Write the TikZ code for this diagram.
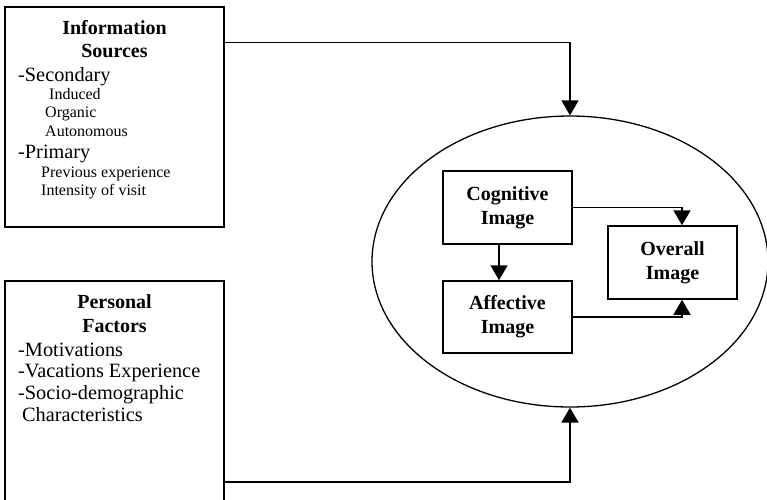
\documentclass[tikz,border=0pt]{standalone}
\usepackage{fontspec}
\setmainfont{Liberation Serif}
\usetikzlibrary{shapes.geometric}
\usetikzlibrary{positioning, arrows.meta}

\begin{document}
\begin{tikzpicture}[x=1pt, y=-1pt,
  box/.style = {draw, line width=1.5pt, inner sep=0pt},
  head/.style = {font=\fontsize{20}{24}\selectfont\bfseries, align=center},
  bold/.style = {font=\fontsize{20}{24}\selectfont\bfseries, inner sep=0pt, anchor=base},
  txt/.style = {font=\fontsize{20.3}{23}\selectfont, inner sep=0pt, anchor=base west},
  sub/.style = {font=\fontsize{16}{19}\selectfont, inner sep=0pt, anchor=base west},
  arr/.style = {line width=1.6pt, -{Triangle[width=17pt, length=15pt]}}]
\useasboundingbox[fill=white] (0,0) rectangle (767,499);
% left boxes
\node[box, minimum width=219pt, minimum height=220pt] (info) at (114.5,117) {};
\node[box, minimum width=219pt, minimum height=239pt] (pers) at (114.5,400.5) {};
% information sources
\node[bold] (infoA) at (114.5,34) {Information};
\node[bold] (infoB) at (114.5,57) {Sources};
\node[txt] (sec) at (18,81) {-Secondary};
\node[sub] (ind) at (49,99) {Induced};
\node[sub] (org) at (45,117) {Organic};
\node[sub] (aut) at (45,136) {Autonomous};
\node[txt] (pri) at (18,158) {-Primary};
\node[sub] (prev) at (41,177) {Previous experience};
\node[sub] (intv) at (41,195) {Intensity of visit};
% personal factors
\node[bold] (persA) at (114.5,308) {Personal};
\node[bold] (persB) at (114.5,332) {Factors};
\node[txt] (mot) at (18,356) {-Motivations};
\node[txt] (vac) at (18,377) {-Vacations Experience};
\node[txt] (soc) at (18,399) {-Socio-demographic};
\node[txt] (cha) at (22,421) {Characteristics};
% destination image
\node[draw, ellipse, line width=1.3pt, minimum width=396pt, minimum height=291pt, inner sep=0pt] (img) at (570,261.5) {};
\node[box, head, minimum width=129pt, minimum height=73pt] (cog) at (507.5,207.5) {Cognitive\\Image};
\node[box, head, minimum width=129pt, minimum height=72pt] (aff) at (507.5,317) {Affective\\Image};
\node[box, head, minimum width=129pt, minimum height=73pt] (ovr) at (672.5,262.5) {Overall\\Image};
% connectors
\draw[arr, line width=1.3pt] ([yshift=-36pt]info.north east) -| (img.north);
\draw[arr] ([yshift=-81.5pt]pers.east) -| (img.south);
\draw[arr] ([xshift=-8.5pt]cog.south) -- ([xshift=-8.5pt]aff.north);
\draw[arr] (cog.east) -| ([xshift=9.5pt]ovr.north);
\draw[arr] (aff.east) -| ([xshift=9.5pt]ovr.south);
\end{tikzpicture}
\end{document}
